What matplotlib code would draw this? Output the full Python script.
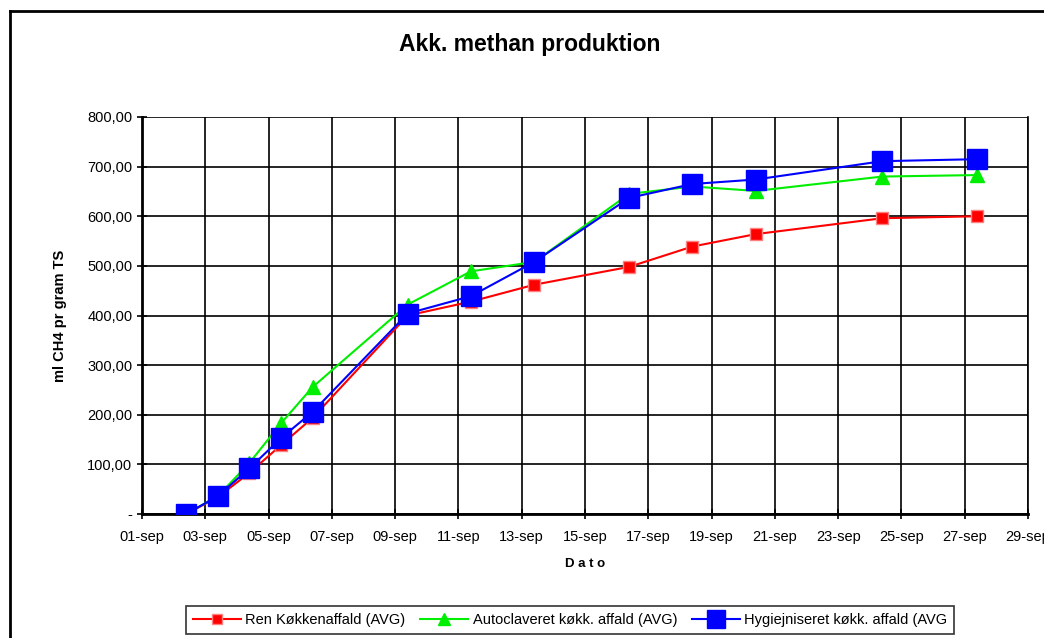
import datetime as dt
import matplotlib
matplotlib.use("Agg")
import matplotlib.pyplot as plt
import matplotlib.dates as mdates
from matplotlib.lines import Line2D

plt.rcParams['font.family'] = ['Liberation Sans', 'DejaVu Sans']

# sample dates (days in september, sampled around 9-10 o'clock)
days = [2, 3, 4, 5, 6, 9, 11, 13, 16, 18, 20, 24, 27]
dates = [dt.datetime(2004, 9, d, 9, 30) for d in days]

ren = [0, 34, 83, 139, 194, 400, 428, 462, 498, 539, 564, 596, 600]
auto = [0, 36, 103, 183, 256, 422, 489, 508, 645, 660, 651, 680, 683]
hyg = [0, 36, 92, 153, 206, 404, 439, 508, 637, 665, 674, 711, 715]

labels = ["Ren Køkkenaffald (AVG)", "Autoclaveret køkk. affald (AVG)",
          "Hygiejniseret køkk. affald (AVG"]

fig = plt.figure(figsize=(10.44, 6.38), dpi=100)
ax = fig.add_axes([142/1044, 1-514/638, (1028-142)/1044, (514-117)/638])

ax.plot(dates, ren, color='#ff0000', lw=1.5, marker='s', ms=8,
        mfc='#ff0000', mec='#ff8080', mew=1, label=labels[0], zorder=3)
ax.plot(dates, auto, color='#00ee00', lw=1.5, marker='^', ms=10,
        mfc='#00ee00', mec='#00ee00', label=labels[1], zorder=4)
ax.plot(dates, hyg, color='#0000ff', lw=1.5, marker='s', ms=14,
        mfc='#0000ff', mec='#0000ff', label=labels[2], zorder=5)

ax.set_xlim(dt.datetime(2004, 9, 1), dt.datetime(2004, 9, 29))
ax.set_ylim(0, 800)
ax.xaxis.set_major_locator(mdates.DayLocator(bymonthday=range(1, 31, 2)))
ax.xaxis.set_major_formatter(mdates.DateFormatter('%d-sep'))
yt = list(range(0, 801, 100))
ax.set_yticks(yt)
ax.set_yticklabels(['-'] + [f"{v},00" for v in yt[1:]])
ax.tick_params(axis='both', labelsize=10.5, direction='inout', length=7, width=1.2)
ax.tick_params(axis='x', pad=8)
ax.grid(True, color='black', lw=1.2)
ax.spines['top'].set_visible(False)
ax.spines['left'].set_linewidth(2)
ax.spines['bottom'].set_linewidth(2)
ax.spines['right'].set_linewidth(1.2)

fig.text(530/1044, 1-45/638, "Akk. methan produktion", ha='center', va='center',
         fontsize=16.5, fontweight='bold')
fig.text(585/1044, 1-564/638, "D a t o", ha='center', va='center',
         fontsize=9.5, fontweight='bold')
fig.text(60/1044, 1-316/638, "ml CH4 pr gram TS", ha='center', va='center',
         rotation=90, fontsize=10.5, fontweight='bold')

leg = fig.legend(loc='center', bbox_to_anchor=(570/1044, 1-620/638), ncol=3,
                 fontsize=10.5, frameon=True, fancybox=False, handlelength=3.3,
                 columnspacing=1.0, handletextpad=0.3, borderpad=0.45,
                 markerscale=0.9)
leg.get_frame().set_edgecolor('black')
leg.get_frame().set_linewidth(1.2)

# outer chart border
fig.add_artist(Line2D([10/1044, 1], [1-11/638, 1-11/638], color='black', lw=2,
                      transform=fig.transFigure))
fig.add_artist(Line2D([10/1044, 10/1044], [0, 1-11/638], color='black', lw=2,
                      transform=fig.transFigure))

fig.savefig('out.png', dpi=100)
